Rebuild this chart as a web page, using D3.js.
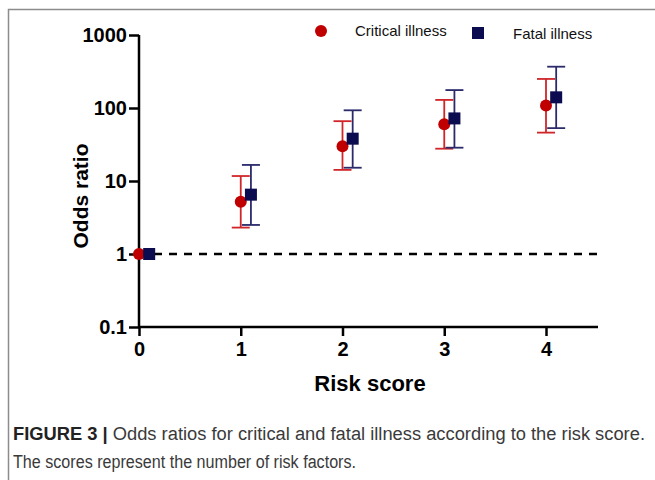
<!DOCTYPE html>
<meta charset="utf-8">
<style>
    body { margin: 0; background: #fff; }
    svg { display: block; font-family: "Liberation Sans", Arial, sans-serif; }
</style>
<svg id="chart" width="655" height="480"></svg>
<script src="https://cdn.jsdelivr.net/npm/d3@7/dist/d3.min.js"></script>
<script>
    // data
    var scores = [0, 1, 2, 3, 4];
    var criticalOR = [1, 5.2, 30, 60, 108];
    var criticalLo = [1, 2.3, 14.2, 27.7, 46];
    var criticalHi = [1, 11.7, 66, 129, 250];
    var fatalOR = [1, 6.5, 38, 72, 140];
    var fatalLo = [1, 2.5, 15.2, 28.6, 53];
    var fatalHi = [1, 16.6, 93, 176, 368];
    var yTicks = [0.1, 1, 10, 100, 1000];
    var seriesNames = ["Critical illness", "Fatal illness"];

    var red = "#c00000", navy = "#0b0b4f";
    var redBar = "#d0262a", navyBar = "#2b2b6b";

    var svg = d3.select("#chart");

    // figure frame
    svg.append("path")
        .attr("d", "M8.5,480V9.5H655")
        .attr("fill", "none")
        .attr("stroke", "#8c8c8c")
        .attr("stroke-width", 1.5);

    var x = d3.scaleLinear().domain([0, 4]).range([139, 546]);
    var y = d3.scaleLog().domain([0.1, 1000]).range([327, 35]);
    var xEnd = 598;

    var g = svg.append("g");

    // reference line at OR = 1
    g.append("line")
        .attr("x1", x(0)).attr("x2", xEnd)
        .attr("y1", y(1)).attr("y2", y(1))
        .attr("stroke", "#000")
        .attr("stroke-width", 2.5)
        .attr("stroke-dasharray", "8,7");

    var xAxis = g.append("g")
        .attr("transform", "translate(0," + y(0.1) + ")")
        .call(d3.axisBottom(x).tickValues(scores).tickFormat(d3.format("d")).tickSize(9).tickPadding(6));
    xAxis.select(".domain").attr("d", "M" + x(0) + ",0H" + xEnd);

    var yAxis = g.append("g")
        .attr("transform", "translate(" + x(0) + ",0)")
        .call(d3.axisLeft(y).tickValues(yTicks).tickFormat(d => String(d)).tickSize(10).tickPadding(2));
    yAxis.select(".domain").attr("d", "M0," + y(1000) + "V" + y(0.1));

    [xAxis, yAxis].forEach(a => {
        a.selectAll(".domain, .tick line").attr("stroke", "#000").attr("stroke-width", 2.5);
        a.selectAll("text")
            .attr("fill", "#000")
            .style("font-size", "20px")
            .style("font-weight", "bold")
            .style("font-family", "'Liberation Sans', Arial, sans-serif");
    });
    xAxis.selectAll(".tick line").attr("y1", -1);

    // axis titles
    g.append("text")
        .attr("transform", "translate(88,196) rotate(-90)")
        .attr("text-anchor", "middle")
        .style("font-size", "21px").style("font-weight", "bold")
        .text("Odds ratio");
    g.append("text")
        .attr("x", 370).attr("y", 391)
        .attr("text-anchor", "middle")
        .style("font-size", "22px").style("font-weight", "bold")
        .text("Risk score");

    // series
    function drawSeries(vals, lo, hi, offset, barColor, color, shape) {
        var rows = scores.map((s, i) => ({ s: s, v: vals[i], lo: lo[i], hi: hi[i] }));
        var cap = 9;
        var s = g.append("g").selectAll("g").data(rows).join("g");
        s.filter(d => d.hi > d.lo).each(function (d) {
            var gg = d3.select(this);
            var cx = x(d.s + offset);
            gg.append("line").attr("x1", cx).attr("x2", cx).attr("y1", y(d.lo)).attr("y2", y(d.hi));
            gg.append("line").attr("x1", cx - cap).attr("x2", cx + cap).attr("y1", y(d.hi)).attr("y2", y(d.hi));
            gg.append("line").attr("x1", cx - cap).attr("x2", cx + cap).attr("y1", y(d.lo)).attr("y2", y(d.lo));
            gg.selectAll("line").attr("stroke", barColor).attr("stroke-width", 1.8);
        });
        if (shape === "circle") {
            s.append("circle")
                .attr("cx", d => x(d.s + offset))
                .attr("cy", d => y(d.v))
                .attr("r", 6)
                .attr("fill", color);
        } else {
            s.append("rect")
                .attr("x", d => x(d.s + offset) - 6)
                .attr("y", d => y(d.v) - 6)
                .attr("width", 12).attr("height", 12)
                .attr("fill", color);
        }
    }
    drawSeries(criticalOR, criticalLo, criticalHi, 0, redBar, red, "circle");
    drawSeries(fatalOR, fatalLo, fatalHi, 0.1, navyBar, navy, "square");

    // legend
    var legend = g.append("g");
    legend.append("circle").attr("cx", 321).attr("cy", 31).attr("r", 6).attr("fill", red);
    legend.append("text").attr("x", 355).attr("y", 36).style("font-size", "15px").attr("fill", "#111").text(seriesNames[0]);
    legend.append("rect").attr("x", 472).attr("y", 27).attr("width", 12).attr("height", 12).attr("fill", navy);
    legend.append("text").attr("x", 513).attr("y", 39).style("font-size", "15px").attr("fill", "#111").text(seriesNames[1]);

    // caption
    var cap = svg.append("g").style("font-family", "'Liberation Sans', Arial, sans-serif")
        .style("font-size", "18px").attr("fill", "#3a3a3a");
    var line1 = cap.append("text").attr("x", 13).attr("y", 440).attr("textLength", 632).attr("lengthAdjust", "spacingAndGlyphs");
    line1.append("tspan").style("font-weight", "bold").attr("fill", "#222").text("FIGURE 3 | ");
    line1.append("tspan").text("Odds ratios for critical and fatal illness according to the risk score.");
    cap.append("text").attr("x", 13).attr("y", 468).attr("textLength", 343).attr("lengthAdjust", "spacingAndGlyphs")
        .text("The scores represent the number of risk factors.");
</script>
